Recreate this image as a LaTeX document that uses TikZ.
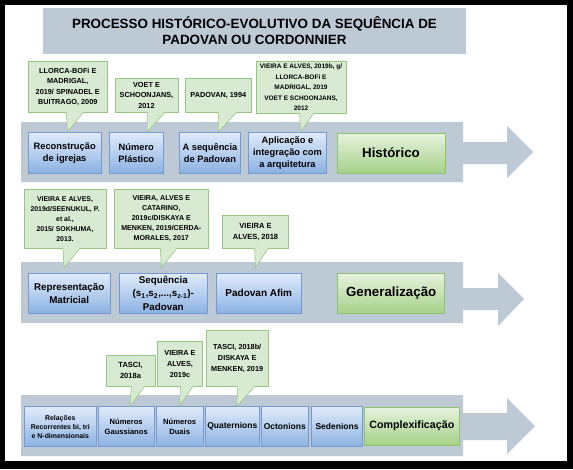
\documentclass[tikz,border=0pt]{standalone}
\usepackage{fontspec}
\setmainfont{Liberation Sans}
\usetikzlibrary{calc}
\definecolor{bandgray}{RGB}{189,201,213}
\definecolor{bluetop}{RGB}{224,235,251}
\definecolor{bluebot}{RGB}{140,178,226}
\definecolor{blueline}{RGB}{116,154,210}
\definecolor{greentop}{RGB}{230,242,221}
\definecolor{greenbot}{RGB}{166,209,137}
\definecolor{greenline}{RGB}{140,195,108}
\definecolor{callfill}{RGB}{217,234,211}
\definecolor{callline}{RGB}{150,199,130}
\tikzset{
  fs/.style 2 args={font=\bfseries\fontsize{#1}{#2}\selectfont},
  titlebox/.style={fill=bandgray, align=center, inner sep=0pt, fs={13.4}{16}},
  band/.style={fill=bandgray},
  stagebox/.style={draw=blueline, line width=.6pt, top color=bluetop, bottom color=bluebot,
    align=center, inner sep=0pt, fs={9.3}{12}},
  phasebox/.style={draw=greenline, line width=.6pt, top color=greentop, bottom color=greenbot,
    align=center, inner sep=0pt, fs={13.3}{16}},
  refbox/.style={draw=callline, fill=callfill, line width=.6pt, align=center, inner sep=0pt,
    fs={7.3}{10.6}},
  refline/.style={draw=callline, line width=.6pt}
}
% #1 callout, #2 base offset, #3 base width, #4 box, #5 tip offset from box north west
\newcommand{\pointer}[5]{
  \fill[callfill] ($(#1.south west)+(#2,-1)$) -- ($(#1.south west)+(#2,0)$) -- ($(#4.north west)+(#5)$)
    -- ($(#1.south west)+(#2+#3,0)$) -- ($(#1.south west)+(#2+#3,-1)$) -- cycle;
  \draw[refline] ($(#1.south west)+(#2,0)$) -- ($(#4.north west)+(#5)$) -- ($(#1.south west)+(#2+#3,0)$);
}

\begin{document}
\begin{tikzpicture}[x=1pt, y=-1pt]
  \useasboundingbox (0,0) rectangle (573,469);
  \fill[black] (0,0) rectangle (573,469);
  \fill[white] (5,5) rectangle (567,461);

  \node[titlebox, minimum width=423, minimum height=46] (title) at (254.5,31)
    {PROCESSO HISTÓRICO-EVOLUTIVO DA SEQUÊNCIA DE\\PADOVAN OU CORDONNIER};

  % historico
  \begin{scope}[shift={(0,122)}]
    \fill[band] (21,0) -- (463,0) -- (463,20) -- (507,20) -- (507,4) -- (533,30) -- (507,56)
      -- (507,42) -- (463,42) -- (463,60) -- (21,60) -- cycle;
    \node[refbox, minimum width=79, minimum height=50.6] (c1a) at (67.8,-35)
      {LLORCA-BOFi E\\MADRIGAL,\\2019/ SPINADEL E\\BUITRAGO, 2009};
    \node[refbox, minimum width=63, minimum height=34] (c1b) at (146.5,-26.7)
      {VOET E\\SCHOONJANS,\\2012};
    \node[refbox, minimum width=66.7, minimum height=34] (c1c) at (218.3,-26.7)
      {PADOVAN, 1994};
    \node[refbox, fs={6.5}{10.6}, minimum width=90, minimum height=51.3] (c1d) at (301,-34.7)
      {VIEIRA E ALVES, 2019b, g/\\LLORCA-BOFi E\\MADRIGAL, 2019\\VOET E SCHOONJANS,\\2012};
    \node[stagebox, minimum width=72.7, minimum height=40.5] (r1a) at (64.7,30.7)
      {Reconstrução\\de igrejas};
    \node[stagebox, minimum width=54, minimum height=40.5] (r1b) at (136.3,30.7)
      {Número\\Plástico};
    \node[stagebox, minimum width=61.4, minimum height=40.5] (r1c) at (210,30.7)
      {A sequência\\de Padovan};
    \node[stagebox, minimum width=78.4, minimum height=40.5] (r1d) at (287.5,30.7)
      {Aplicação e\\integração com\\a arquitetura};
    \node[phasebox, minimum width=108, minimum height=40] (r1g) at (391,31) {Histórico};
    \pointer{c1a}{38.4}{16.6}{r1a}{39.4,0}
    \pointer{c1b}{32.7}{17.3}{r1b}{38,0}
    \pointer{c1c}{34}{17.7}{r1c}{39,0}
    \pointer{c1d}{44}{14}{r1d}{52.4,0}
  \end{scope}

  % generalizacao
  \begin{scope}[shift={(0,262)}]
    \fill[band] (21,0) -- (463,0) -- (463,26) -- (498,26) -- (498,11) -- (524,37) -- (498,64)
      -- (498,48) -- (463,48) -- (463,61) -- (21,61) -- cycle;
    \node[refbox, fs={6.9}{10}, minimum width=82, minimum height=59.3] (c2a) at (65,-43.3)
      {VIEIRA E ALVES,\\2019d/SEENUKUL, P.\\et al.,\\2015/ SOKHUMA,\\2013.};
    \node[refbox, fs={7.1}{10}, minimum width=94, minimum height=59.3] (c2b) at (161.3,-43.3)
      {VIEIRA, ALVES E\\CATARINO,\\2019c/DISKAYA E\\MENKEN, 2019/CERDA-\\MORALES, 2017};
    \node[refbox, fs={7.5}{10.6}, minimum width=65.6, minimum height=32.6] (c2c) at (255.5,-30)
      {VIEIRA E\\ALVES, 2018};
    \node[stagebox, fs={9.8}{13.3}, minimum width=81.7, minimum height=40] (r2a) at (69.2,31.3)
      {Representação\\Matricial};
    \node[stagebox, fs={9.8}{13.3}, minimum width=88, minimum height=40] (r2b) at (163.3,31.3)
      {Sequência\\(s\textsubscript{1},s\textsubscript{2},...,s\textsubscript{z-1})-\\Padovan};
    \node[stagebox, fs={10}{13.3}, minimum width=85.7, minimum height=40] (r2c) at (258.8,31.3)
      {Padovan Afim};
    \node[phasebox, minimum width=107, minimum height=40] (r2g) at (391.2,31.3) {Generalização};
    \pointer{c2a}{39.3}{16.7}{r2a}{36,-5.3}
    \pointer{c2b}{46.4}{16}{r2b}{42.4,-5.3}
    \pointer{c2c}{32.3}{13.3}{r2c}{39.7,-5.3}
  \end{scope}

  % complexificacao
  \begin{scope}[shift={(0,395)}]
    \fill[band] (21,0) -- (463,0) -- (463,18) -- (507,18) -- (507,3) -- (535,31) -- (507,59)
      -- (507,45) -- (463,45) -- (463,61) -- (21,61) -- cycle;
    \node[refbox, fs={7.5}{11}, minimum width=49, minimum height=31] (c3a) at (130.5,-24.5)
      {TASCI,\\2018a};
    \node[refbox, fs={7.3}{11}, minimum width=45.4, minimum height=44.3] (c3b) at (180,-31.2)
      {VIEIRA E\\ALVES,\\2019c};
    \node[refbox, fs={7.3}{11}, minimum width=62.3, minimum height=56] (c3c) at (237.2,-37)
      {TASCI, 2018b/\\DISKAYA E\\MENKEN, 2019};
    \node[stagebox, fs={6.9}{9}, minimum width=72.7, minimum height=40] (r3a) at (60.3,31.6)
      {Relações\\Recorrentes bi, tri\\e N-dimensionais};
    \node[stagebox, fs={7.6}{10.5}, minimum width=55.7, minimum height=40] (r3b) at (126.2,31.6)
      {Números\\Gaussianos};
    \node[stagebox, fs={7.6}{10.5}, minimum width=47.3, minimum height=40] (r3c) at (179.7,31.6)
      {Números\\Duais};
    \node[stagebox, fs={8.5}{10.5}, minimum width=54, minimum height=40] (r3d) at (232.3,31.6)
      {Quaternions};
    \node[stagebox, fs={8.5}{10.5}, minimum width=47, minimum height=40] (r3e) at (284.8,31.6)
      {Octonions};
    \node[stagebox, fs={8.5}{10.5}, minimum width=51.4, minimum height=40] (r3f) at (337,31.6)
      {Sedenions};
    \node[phasebox, fs={10.7}{13}, minimum width=94.9, minimum height=37.7] (r3g) at (411.8,31.2)
      {Complexificação};
    \pointer{c3a}{25.7}{13.3}{r3b}{31.7,0}
    \pointer{c3b}{23.7}{12.3}{r3c}{23.3,0}
    \pointer{c3c}{31.7}{17.3}{r3d}{32,0}
  \end{scope}
\end{tikzpicture}
\end{document}
